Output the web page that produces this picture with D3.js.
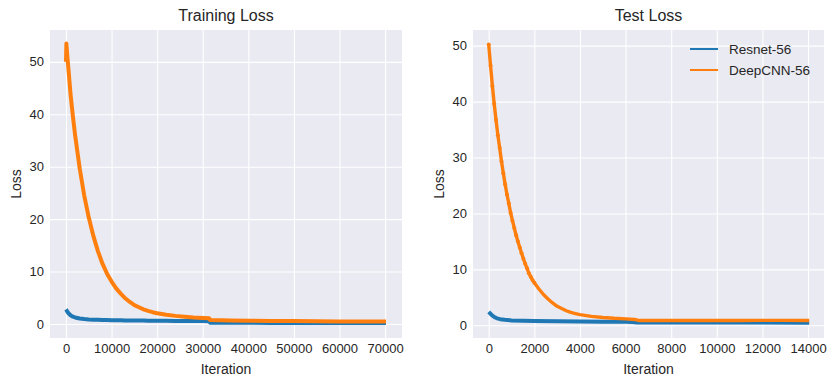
<!DOCTYPE html>
<html>
<head>
<meta charset="utf-8">
<script src="https://cdn.jsdelivr.net/npm/d3@7"></script>
<style>
  body { margin: 0; background: #fff; }
  svg { font-family: "Liberation Sans", Arial, sans-serif; }
</style>
</head>
<body>
<script>
// values
const trainIter = [0, 80, 250, 500, 1000, 1500, 2000, 3000, 4000, 5000, 6000, 7000, 8000, 9000, 10000,
  11000, 12000, 13000, 14000, 15000, 16000, 17000, 18000, 19000, 20000, 22000, 24000, 26000, 28000,
  30000, 31400, 31600, 34000, 36000, 40000, 45000, 50000, 55000, 60000, 65000, 70200];
const trainResnet = [2.8, 2.7, 2.4, 2.1, 1.65, 1.4, 1.25, 1.05, 0.95, 0.88, 0.83, 0.8, 0.77, 0.75, 0.73,
  0.72, 0.7, 0.69, 0.68, 0.67, 0.66, 0.65, 0.64, 0.63, 0.62, 0.6, 0.59, 0.57, 0.56,
  0.55, 0.54, 0.26, 0.24, 0.23, 0.22, 0.21, 0.2, 0.2, 0.19, 0.19, 0.18];
const trainDeep = [50.0, 53.5, 51.5, 49.0, 43.8, 39.7, 36.0, 29.7, 24.5, 20.3, 16.8, 13.9, 11.5, 9.6, 8.1,
  6.8, 5.8, 4.9, 4.2, 3.6, 3.2, 2.8, 2.5, 2.25, 2.05, 1.75, 1.55, 1.4, 1.25,
  1.15, 1.1, 0.75, 0.7, 0.67, 0.62, 0.58, 0.55, 0.52, 0.5, 0.5, 0.48];

const testResnetIter = [0, 60, 140, 240, 360, 500, 700, 1000, 1500, 2000, 3000, 4000, 5000, 6000,
  6300, 6500, 7000, 8000, 10000, 12000, 14050];
const testResnet = [2.4, 2.15, 1.8, 1.5, 1.25, 1.1, 0.98, 0.88, 0.8, 0.76, 0.72, 0.68, 0.65, 0.62,
  0.6, 0.52, 0.5, 0.5, 0.5, 0.48, 0.47];

// early test points are evaluated every 80 iterations
const testDeepIter = [0, 80, 160, 240, 320, 400, 480, 560, 640, 720, 800, 880, 960, 1040, 1120,
  1200, 1280, 1360, 1440, 1520, 1600, 1680, 1760, 1840, 1920, 2000,
  2200, 2400, 2600, 2800, 3000, 3200, 3400, 3600, 3800, 4000, 4500, 5000, 5500, 6000, 6400,
  6600, 7000, 8000, 9000, 10000, 11000, 12000, 13000, 14050];
const testDeep = [50.2, 46.4, 42.8, 39.6, 36.7, 34.0, 31.7, 29.3, 27.2, 25.2, 23.4, 21.8, 20.1, 18.7, 17.4,
  16.1, 15.0, 13.9, 12.9, 11.9, 11.0, 10.2, 9.3, 8.7, 8.1, 7.6,
  6.5, 5.5, 4.7, 4.0, 3.4, 3.0, 2.6, 2.3, 2.1, 1.9, 1.6, 1.4, 1.25, 1.15, 1.05,
  0.85, 0.85, 0.85, 0.85, 0.85, 0.85, 0.88, 0.88, 0.85];

const trainTicks = [0, 10000, 20000, 30000, 40000, 50000, 60000, 70000];
const testTicks = [0, 2000, 4000, 6000, 8000, 10000, 12000, 14000];
const lossTicks = [0, 10, 20, 30, 40, 50];
const seriesNames = ['Resnet-56', 'DeepCNN-56'];
const colors = ['#1f77b4', '#ff7f0e'];

const W = 834, H = 386;
const svg = d3.select('body').append('svg')
  .attr('width', W)
  .attr('height', H);

function panel(opt) {
  const w = opt.right - opt.left, h = opt.bottom - opt.top;
  const g = svg.append('g').attr('transform', `translate(${opt.left},${opt.top})`);

  const x = d3.scaleLinear().domain(opt.xDomain).range([0, w]);
  const y = d3.scaleLinear().domain(opt.yDomain).range([h, 0]);

  g.append('rect').attr('width', w).attr('height', h).attr('fill', '#eaeaf2');

  const xa = g.append('g')
    .attr('transform', `translate(0,${h})`)
    .call(d3.axisBottom(x).tickValues(opt.xTicks).tickFormat(d3.format('d')).tickSize(-h).tickPadding(6));
  const ya = g.append('g')
    .call(d3.axisLeft(y).tickValues(lossTicks).tickFormat(d3.format('d')).tickSize(-w).tickPadding(6));
  [xa, ya].forEach(a => {
    a.select('.domain').remove();
    a.selectAll('line').attr('stroke', '#fff').attr('stroke-width', 1.1);
    a.selectAll('text').attr('fill', '#262626').style('font-size', '13px');
  });

  const clip = 'clip' + opt.left;
  g.append('clipPath').attr('id', clip).append('rect').attr('width', w).attr('height', h);
  const plot = g.append('g').attr('clip-path', `url(#${clip})`);

  opt.series.forEach((s, i) => {
    const line = d3.line().x(d => x(d[0])).y(d => y(d[1]));
    plot.append('path')
      .datum(d3.zip(s.xs, s.ys))
      .attr('fill', 'none')
      .attr('stroke', colors[i])
      .attr('stroke-width', s.width)
      .attr('stroke-linejoin', 'round')
      .attr('d', line);
    if (s.dots) {
      plot.selectAll(null)
        .data(d3.zip(s.xs, s.ys).filter(d => d[0] <= s.dots))
        .enter().append('circle')
        .attr('cx', d => x(d[0]))
        .attr('cy', d => y(d[1]))
        .attr('r', 2)
        .attr('fill', colors[i]);
    }
  });

  g.append('text')
    .attr('x', w / 2).attr('y', -9)
    .attr('text-anchor', 'middle')
    .attr('fill', '#262626')
    .style('font-size', '16px')
    .text(opt.title);
  g.append('text')
    .attr('x', w / 2).attr('y', h + 36)
    .attr('text-anchor', 'middle')
    .attr('fill', '#262626')
    .style('font-size', '14px')
    .text('Iteration');
  g.append('text')
    .attr('transform', `translate(${-opt.left + opt.ylabelX},${h / 2}) rotate(-90)`)
    .attr('text-anchor', 'middle')
    .attr('fill', '#262626')
    .style('font-size', '14px')
    .text('Loss');
  return g;
}

panel({
  left: 50, right: 402, top: 30, bottom: 338,
  xDomain: [-3510, 73710], yDomain: [-2.67, 56.07],
  xTicks: trainTicks, title: 'Training Loss', ylabelX: 21,
  series: [
    { xs: trainIter, ys: trainResnet, width: 4 },
    { xs: trainIter, ys: trainDeep, width: 4 }
  ]
});

const g2 = panel({
  left: 473, right: 824, top: 30, bottom: 338,
  xDomain: [-690, 14700], yDomain: [-2.27, 52.8],
  xTicks: testTicks, title: 'Test Loss', ylabelX: 444,
  series: [
    { xs: testResnetIter, ys: testResnet, width: 4 },
    { xs: testDeepIter, ys: testDeep, width: 3.4, dots: 2000 }
  ]
});

// legend
const leg = g2.append('g').attr('transform', 'translate(217,19)');
seriesNames.forEach((n, i) => {
  const row = leg.append('g').attr('transform', `translate(0,${i * 21})`);
  row.append('line').attr('x1', 0).attr('x2', 28).attr('stroke', colors[i]).attr('stroke-width', 2);
  row.append('text').attr('x', 39).attr('dy', '0.35em')
    .attr('fill', '#262626').style('font-size', '13.5px').text(n);
});
</script>
</body>
</html>
